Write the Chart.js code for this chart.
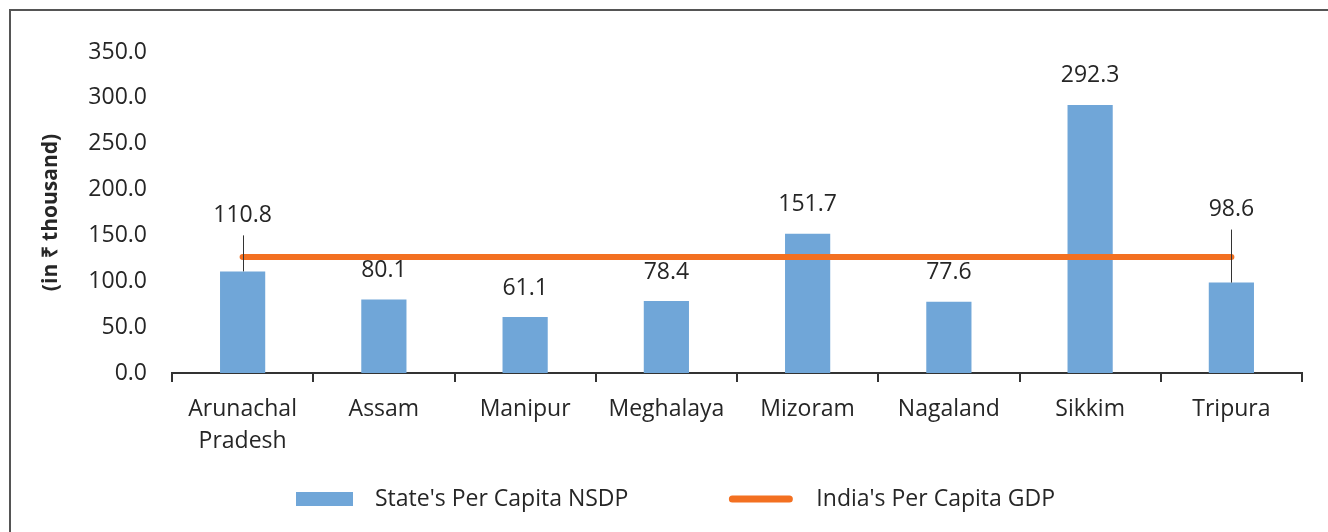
<!DOCTYPE html>
<html lang="en">
<head>
  <meta charset="UTF-8" />
  <title>Per Capita NSDP of North Eastern States</title>
  <script src="https://cdn.jsdelivr.net/npm/chart.js"></script>
  <style>
    body { margin: 0; background: #fff; }
    #wrap { position: relative; width: 1328px; height: 532px; overflow: hidden; }
    #frame { position: absolute; left: 9px; top: 9px; width: 1400px; height: 600px;
             border-left: 2px solid #555; border-top: 2px solid #555; }
    canvas { position: absolute; left: 0; top: 0; }
  </style>
</head>
<body>

  <div id="wrap">
    <div id="frame"></div>
    <canvas id="nsdpChart" width="1328" height="532"></canvas>
  </div>

  <script>
    const states = [['Arunachal', 'Pradesh'], 'Assam', 'Manipur', 'Meghalaya', 'Mizoram', 'Nagaland', 'Sikkim', 'Tripura'];
    const stateNSDP = [110.8, 80.1, 61.1, 78.4, 151.7, 77.6, 292.3, 98.6];
    const indiaGDP = [126.4, 126.4, 126.4, 126.4, 126.4, 126.4, 126.4, 126.4];
    const yTicks = [0, 50, 100, 150, 200, 250, 300, 350];
    const seriesNames = ["State's Per Capita NSDP", "India's Per Capita GDP"];

    const BLUE = '#70a6d8';
    const ORANGE = '#f37021';
    const TEXT = '#262626';

    Chart.defaults.font.family = '"Open Sans", sans-serif';
    Chart.defaults.font.size = 23;
    Chart.defaults.color = TEXT;

    // labels that would sit under the GDP line are lifted and get a leader line
    const labelLift = { 0: 56, 7: 73 };

    const barLabels = {
      id: 'barLabels',
      afterDatasetsDraw(chart) {
        const ctx = chart.ctx;
        const meta = chart.getDatasetMeta(0);
        ctx.save();
        ctx.font = '23px "Open Sans"';
        ctx.fillStyle = TEXT;
        ctx.textAlign = 'center';
        ctx.textBaseline = 'middle';
        meta.data.forEach((bar, i) => {
          const lift = labelLift[i] || 29;
          const ty = bar.y - lift;
          ctx.fillText(stateNSDP[i].toFixed(1), bar.x, ty);
          if (labelLift[i]) {
            const lx = Math.round(bar.x) + 0.5;
            ctx.strokeStyle = '#333';
            ctx.lineWidth = 1;
            ctx.beginPath();
            ctx.moveTo(lx, ty + 20);
            ctx.lineTo(lx, bar.y);
            ctx.stroke();
          }
        });
        ctx.restore();
      }
    };

    const legendRow = {
      id: 'legendRow',
      afterDraw(chart) {
        const ctx = chart.ctx;
        const [bars, line] = chart.data.datasets;
        const y = 499;
        let x = 296;
        ctx.save();
        ctx.font = '23px "Open Sans"';
        ctx.textBaseline = 'middle';
        ctx.textAlign = 'left';

        ctx.fillStyle = bars.backgroundColor;
        ctx.fillRect(x, y - 7, 57, 14);
        x += 57 + 22;
        ctx.fillStyle = TEXT;
        ctx.fillText(bars.label, x, y);
        x += ctx.measureText(bars.label).width + 101;

        ctx.strokeStyle = line.borderColor;
        ctx.lineWidth = 7;
        ctx.lineCap = 'round';
        ctx.beginPath();
        ctx.moveTo(x + 3, y);
        ctx.lineTo(x + 60, y);
        ctx.stroke();
        x += 63 + 24;
        ctx.fillText(line.label, x, y);
        ctx.restore();
      }
    };

    new Chart(document.getElementById('nsdpChart'), {
      type: 'bar',
      data: {
        labels: states,
        datasets: [
          {
            label: seriesNames[0],
            data: stateNSDP,
            backgroundColor: BLUE,
            categoryPercentage: 1,
            barPercentage: 0.32,
            order: 1
          },
          {
            type: 'line',
            label: seriesNames[1],
            data: indiaGDP,
            borderColor: ORANGE,
            backgroundColor: ORANGE,
            borderWidth: 6,
            borderCapStyle: 'round',
            pointRadius: 0,
            fill: false,
            order: 0
          }
        ]
      },
      options: {
        responsive: false,
        animation: false,
        layout: { padding: { left: 38, right: 26, top: 52, bottom: 0 } },
        plugins: {
          legend: { display: false },
          tooltip: { enabled: false }
        },
        scales: {
          x: {
            offset: true,
            grid: { display: true, drawOnChartArea: false, offset: true, tickLength: 9, color: '#333', lineWidth: 2 },
            border: { display: true, color: '#333', width: 2 },
            ticks: { color: TEXT, font: { size: 23, lineHeight: 1.4 }, padding: 11, maxRotation: 0, autoSkip: false },
            afterFit: s => { s.height = 159; }
          },
          y: {
            min: 0,
            max: 350,
            afterBuildTicks: s => { s.ticks = yTicks.map(v => ({ value: v })); },
            afterFit: s => { s.width = 134; },
            grid: { display: false, drawTicks: false },
            border: { display: false },
            ticks: { color: TEXT, padding: 25, callback: v => v.toFixed(1) },
            title: { display: true, text: '(in ₹ thousand)', color: TEXT, font: { size: 21, weight: 'bold' }, padding: 0 }
          }
        }
      },
      plugins: [barLabels, legendRow]
    });
  </script>

</body>
</html>
